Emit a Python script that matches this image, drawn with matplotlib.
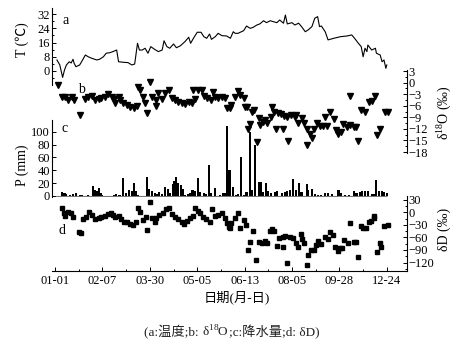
import matplotlib
matplotlib.use("Agg")
import matplotlib.pyplot as plt
from matplotlib.ticker import MultipleLocator

plt.rcParams["font.family"] = ["Liberation Serif", "Noto Sans CJK SC"]
plt.rcParams["mathtext.fontset"] = "custom"
plt.rcParams["mathtext.rm"] = "Liberation Serif"
plt.rcParams["font.size"] = 9

# ==========================================================
# DATA (x = sample index)
# ==========================================================

t_x = [2, 5, 8, 10, 12, 15, 17, 19, 20, 22, 26, 28, 32, 35, 39, 44, 47, 51, 54,
       58, 61, 65, 67, 72, 77, 81, 84, 87, 89, 92, 95, 98, 101, 105, 109, 113,
       115, 118, 121, 125, 128, 132, 137, 141, 143, 146, 150, 154, 157, 160,
       163, 165, 169, 172, 176, 181, 185, 188, 190, 193, 199, 202, 206, 209,
       213, 216, 220, 223, 227, 230, 234, 237, 241, 243, 245, 250, 253, 257,
       260, 264, 267, 271, 274, 277, 279, 281, 285, 288, 294, 301, 308, 313,
       316, 320, 323, 325, 327, 329, 330, 334, 338, 339, 343, 345, 347, 349, 350]
t_val = [6.2, 3.4, -3.6, 0.6, 3.4, 5.2, 4.5, 6.6, 4.5, 2.4, 3.4, 5.2, 9, 8, 7.1,
         6.2, 6.6, 8, 10, 10.3, 10.9, 11.8, 5.2, 4.9, 4.7, 3.4, 3.9, 15.6, 11.8,
         11.8, 12.8, 10, 13.7, 12.2, 10.9, 11.8, 17, 13.7, 12.8, 15.2, 13.1,
         14.1, 16.5, 19, 15.6, 18.4, 21.8, 21.8, 19.3, 18.4, 20.8, 17.8, 19.3,
         21.2, 19.9, 19.7, 18.4, 22.1, 21.2, 21.2, 22.7, 25.3, 24, 24.6,
         25.9, 26.5, 28.3, 27.2, 28.3, 27.8, 27.2, 28.7, 26.9, 31.5, 26.5, 27.2,
         25.9, 26.9, 25, 22.1, 23.1, 25, 29.7, 30.6, 25, 25.3, 22.1, 17.5, 18.4,
         19.3, 19.7, 20.3, 18.4, 15.6, 13.7, 8, 12.8, 10.9, 14.6, 11.8, 12.8,
         10, 9, 5.2, 6.2, 1.5, 3.4]

o_x = [3, 7, 10, 14, 18, 20, 26, 32, 35, 39, 42, 46, 49, 53, 56, 60, 62, 63, 67,
       69, 72, 76, 79, 83, 86, 88, 90, 93, 95, 97, 100, 102, 106, 107, 109, 113,
       116, 120, 123, 127, 130, 134, 137, 141, 144, 146, 148, 151, 155, 157,
       160, 164, 167, 169, 172, 176, 179, 181, 185, 186, 190, 193, 195, 199,
       200, 202, 204, 206, 208, 210, 213, 215, 216, 219, 222, 224, 228, 229,
       231, 233, 235, 238, 241, 242, 245, 246, 249, 253, 254, 256, 260, 263,
       266, 266, 269, 271, 273, 276, 280, 283, 285, 287, 290, 294, 296, 299,
       302, 304, 308, 311, 311, 315, 318, 320, 323, 327, 331, 334, 338, 340,
       343, 348, 351]
o_val = [-0.6, -3.6, -3.6, -4.5, -3.6, -4.5, -8.4, -4.3, -3.7, -3.5, -4.5, -4.3,
         -4.1, -3.6, -3.0, -3.6, -4.3, -5.4, -3.6, -4.5, -5.4, -5.8, -6.2, -6.5,
         -6.0, -1.1, -1.9, -3.6, -5.4, -8.0, 0.2, -3.6, -6.0, -4.5, -2.8, -4.3,
         -2.8, -1.9, -4.1, -4.5, -4.9, -5.4, -5.6, -4.9, -5.4, -1.9, -4.3, -1.9,
         -1.9, -3.4, -4.1, -4.5, -2.4, -3.6, -4.1, -3.6, -4.1, -6.7, -6.7, -5.8,
         -3.6, -2.2, -3.2, -4.1, -6.2, -6.2, -11.9, -10.8, -7.5, -7.1, -15.3,
         -9.3, -11.0, -10.1, -9.7, -10.6, -8.8, -6.2, -7.5, -11.9, -8.0, -8.2,
         -11.9, -8.6, -8.8, -15.1, -8.4, -8.8, -8.4, -10.6, -9.1, -10.6, -11.9,
         -16.3, -13.2, -14.4, -11.9, -10.6, -11.2, -11.2, -8.8, -11.2, -7.7,
         -9.5, -12.3, -13.2, -12.9, -10.8, -11.4, -11.0, -3.4, -11.4, -11.4,
         -15.1, -7.1, -7.5, -5.1, -4.8, -3.5, -13.6, -11.9, -7.5, -7.5]

p_x = [7, 10, 12, 16, 19, 22, 26, 28, 32, 35, 40, 42, 44, 46, 48, 50, 62, 64, 67,
       69, 72, 75, 78, 81, 83, 85, 87, 97, 99, 102, 105, 107, 110, 113, 116,
       119, 121, 124, 126, 128, 130, 133, 135, 137, 140, 142, 145, 148, 151,
       153, 157, 159, 162, 164, 169, 174, 177, 179, 181, 184, 188, 191, 193,
       196, 199, 202, 206, 208, 211, 215, 217, 219, 223, 225, 228, 232, 234,
       239, 243, 245, 248, 251, 254, 257, 260, 261, 266, 267, 271, 274, 277,
       281, 285, 288, 292, 299, 302, 306, 310, 315, 318, 322, 324, 327, 330,
       334, 337, 339, 342, 345, 347, 350]
p_val = [6.7, 5.2, 3.1, 1.6, 3.1, 4.1, 1.6, 1.6, 0.5, 1.0, 15.5, 9.3, 8.3, 11.9,
         5.2, 1.6, 2.0, 3.1, 2.0, 1.0, 27.5, 5.2, 9.3, 8.3, 19.7, 8.3, 1.6, 29,
         10.4, 8.3, 5.2, 3.1, 6.7, 3.1, 14.5, 10.4, 4.1, 18.7, 23.8, 30, 20.7,
         17.1, 10.4, 1.6, 3.1, 5.2, 9.3, 8.3, 27.5, 6.7, 5.2, 3.1, 48.2, 4.1,
         11.9, 1.6, 5.2, 5.2, 108.9, 40.4, 14.5, 1.6, 3.1, 61.2, 1.6, 6.7, 100,
         9.3, 79.3, 22.3, 22.3, 6.7, 19.7, 8.3, 4.1, 6.7, 8.3, 4.1, 6.7, 8.3,
         9.3, 25.9, 9.3, 19.7, 6.7, 3.1, 18.7, 9.3, 10.4, 3.1, 1.6, 1.6, 4.1,
         5.2, 3.1, 9.3, 4.1, 2.0, 1.6, 8.3, 4.1, 6.7, 8.3, 8.3, 8.3, 3.1, 3.1,
         24.9, 8.3, 7.7, 6.7, 5.2]

d_x = [7, 9, 11, 14, 17, 19, 25, 27, 30, 33, 36, 39, 42, 46, 49, 53, 56, 59, 61,
       63, 67, 70, 73, 76, 79, 82, 85, 88, 90, 93, 96, 97, 100, 102, 105, 107,
       110, 114, 117, 120, 123, 127, 130, 134, 136, 139, 142, 146, 148, 151,
       153, 156, 159, 163, 166, 169, 172, 176, 179, 181, 183, 185, 186, 190,
       193, 195, 199, 201, 204, 206, 209, 212, 215, 218, 222, 224, 227, 229,
       231, 234, 236, 240, 241, 243, 245, 248, 251, 254, 256, 259, 261, 263,
       266, 267, 270, 273, 275, 277, 281, 285, 288, 290, 293, 295, 298, 301,
       303, 305, 309, 311, 315, 317, 320, 323, 325, 328, 331, 333, 336, 337,
       340, 343, 344, 347, 351]
d_val = [9.5, -2.5, -8, 1.5, -2.5, -10.4, -46.3, -50.3, -16, -10.4, 0, -6.4, -16,
         -12.8, -10.4, -8, -4.9, -2.5, -6.4, -10.4, -8, -16, -22.4, -24, -28.8,
         -30.4, -22.4, 9.5, 1.5, -18.4, -10.4, -42.3, 25.4, -12.8, -22.4, -14.4,
         -6.4, -2.5, 7.9, 11.1, -4.9, -10.4, -16, -22.4, -28.8, -20.8, -12.8,
         -8, 9.5, 3.1, -2.5, -10.4, -16, -22.4, 7.9, -8, -6.4, -2.5, -12.8,
         -26.4, -34.4, -38.4, -26.4, -14.4, -2.5, -36.8, -18.4, -30.4, -90.1,
         -70.2, -44.7, -114, -70.2, -74.2, -68.6, -74.2, -44.7, -39.9, -44.7,
         -79.8, -60.6, -58.2, -82.2, -55.8, -122, -58.2, -60.6, -74.2, -82.2,
         -52.7, -63.8, -74.2, -126, -102, -90.1, -90.1, -78.2, -68.6, -76.6,
         -58.2, -63.8, -47.9, -54.2, -82.2, -92.5, -84.6, -84.6, -66.2, -74.2,
         -26.4, -70.2, -70.2, -106, -32, -36.8, -38.4, -22.4, -20.8, -12.8, -8,
         -95.7, -74.2, -82.2, -32, -30.4]

x_ticks = [0, 50, 100, 150, 200, 250, 300, 350]
x_labels = ["01-01", "02-07", "03-30", "05-05", "06-13", "08-05", "09-28", "12-24"]

caption_parts = ["(a:温度;b: ", "δ$^{18}$O", ";c:降水量;d: δD)"]

# ==========================================================
# LAYOUT
# ==========================================================

fig = plt.figure(figsize=(4.69, 3.44), dpi=100)

L, W = 0.1109, 0.7559
XLIM = (-3.2, 370.8)

ax_a = fig.add_axes([L, 0.7529, W, 0.2230])
ax_b = fig.add_axes([L, 0.5547, W, 0.2410])
ax_c = fig.add_axes([L, 0.4282, W, 0.2230])
ax_d = fig.add_axes([L, 0.2122, W, 0.2180])

for ax in (ax_a, ax_b, ax_c, ax_d):
    ax.set_xlim(*XLIM)
    ax.patch.set_alpha(0)
    for s in ax.spines.values():
        s.set_visible(False)
        s.set_linewidth(0.8)
    ax.tick_params(which="both", direction="in", width=0.7, labelsize=9,
                   pad=1.5)
    ax.tick_params(which="major", length=3)
    ax.tick_params(which="minor", length=1.5)
    ax.set_xticks([])

# a: temperature
ax_a.plot(t_x, t_val, color="black", lw=0.8)
ax_a.set_ylim(-7.9, 35.3)
ax_a.spines["left"].set_visible(True)
ax_a.yaxis.set_major_locator(MultipleLocator(8))
ax_a.yaxis.set_minor_locator(MultipleLocator(4))

# b: d18O
ax_b.plot(o_x, o_val, linestyle="none", marker="v", color="black",
          markersize=4)
ax_b.set_ylim(-18.3, 3.2)
ax_b.spines["right"].set_visible(True)
ax_b.yaxis.tick_right()
ax_b.yaxis.set_major_locator(MultipleLocator(3))
ax_b.yaxis.set_minor_locator(MultipleLocator(1.5))

# c: precipitation
ax_c.bar(p_x, p_val, width=2.2, color="black")
ax_c.hlines(0, p_x[0] - 6, p_x[-1], color="#777777", lw=0.8)
ax_c.set_ylim(-1.1, 118.2)
ax_c.spines["left"].set_visible(True)
ax_c.set_yticks([0, 20, 40, 60, 80, 100])

# d: dD
ax_d.plot(d_x, d_val, linestyle="none", marker="s", color="black",
          markersize=2.8)
ax_d.set_ylim(-140.3, 39.0)
ax_d.spines["right"].set_visible(True)
ax_d.spines["bottom"].set_visible(True)
ax_d.yaxis.tick_right()
ax_d.set_yticks([30, 0, -30, -60, -90, -120])
ax_d.yaxis.set_minor_locator(MultipleLocator(15))
ax_d.set_xticks(x_ticks)
ax_d.set_xticklabels(x_labels)
ax_d.xaxis.set_minor_locator(MultipleLocator(25))
ax_d.tick_params(axis="x", pad=3)

# ==========================================================
# TEXT
# ==========================================================

fig.text(0.1407, 0.939, "a", fontsize=10, ha="center", va="center")
fig.text(0.1748, 0.741, "b", fontsize=10, ha="center", va="center")
fig.text(0.1386, 0.625, "c", fontsize=10, ha="center", va="center")
fig.text(0.1322, 0.3285, "d", fontsize=10, ha="center", va="center")

fig.text(0.047, 0.884, "T (℃)", fontsize=10, rotation=90,
         ha="center", va="center")
fig.text(0.047, 0.520, "P (mm)", fontsize=10, rotation=90,
         ha="center", va="center")
fig.text(0.9467, 0.674, "δ$^{18}$O (‰)", fontsize=10, rotation=90,
         ha="center", va="center")
fig.text(0.9467, 0.334, "δD (‰)", fontsize=10, rotation=90,
         ha="center", va="center")

fig.text(0.505, 0.134, "日期(月-日)", fontsize=9.5, ha="center", va="center")

# caption: mathtext can't fall back to the CJK font, so lay it out in pieces
renderer = fig.canvas.get_renderer()
pieces = [fig.text(0, 0.022, s, fontsize=9.5, va="baseline", color="#222222")
          for s in caption_parts]
widths = [t.get_window_extent(renderer).width for t in pieces]
x = 0.495 * fig.bbox.width - sum(widths) / 2
for t, w in zip(pieces, widths):
    t.set_x(x / fig.bbox.width)
    x += w

fig.savefig("out.png", dpi=100)
